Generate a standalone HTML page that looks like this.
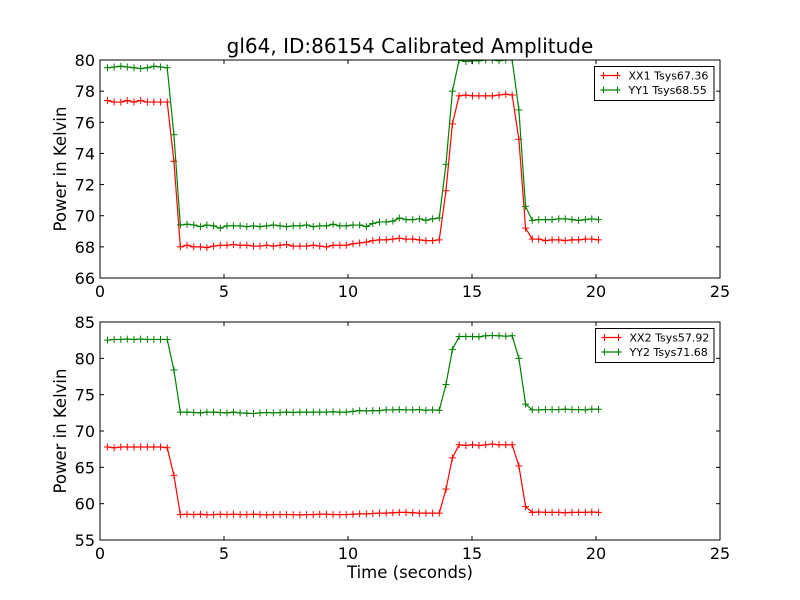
<!DOCTYPE html>
<html><head><meta charset="utf-8">
<style>
html,body{margin:0;padding:0;background:#fff;}
svg{display:block;font-family:"DejaVu Sans","Liberation Sans",sans-serif;}
</style></head>
<body>
<svg id="chart" width="800" height="600" viewBox="0 0 800 600" xmlns="http://www.w3.org/2000/svg">
<rect width="800" height="600" fill="#fff"/>
<text x="410" y="53" font-size="20" text-anchor="middle">gl64, ID:86154 Calibrated Amplitude</text>
</svg>
<script>
const times=[0.30,0.57,0.84,1.10,1.37,1.64,1.91,2.17,2.44,2.71,2.98,3.24,3.51,3.78,4.05,4.31,4.58,4.85,5.12,5.38,5.65,5.92,6.19,6.45,6.72,6.99,7.26,7.52,7.79,8.06,8.33,8.60,8.86,9.13,9.40,9.67,9.93,10.20,10.47,10.74,11.00,11.27,11.54,11.81,12.07,12.34,12.61,12.88,13.14,13.41,13.68,13.95,14.21,14.48,14.75,15.02,15.28,15.55,15.82,16.09,16.36,16.62,16.89,17.16,17.43,17.69,17.96,18.23,18.50,18.76,19.03,19.30,19.57,19.83,20.10];
const xx1=[77.4,77.3,77.3,77.4,77.3,77.4,77.3,77.3,77.3,77.3,73.5,68.0,68.1,68.0,68.0,67.95,68.05,68.1,68.1,68.15,68.1,68.1,68.05,68.05,68.1,68.05,68.1,68.15,68.05,68.05,68.05,68.1,68.05,68.0,68.1,68.1,68.1,68.2,68.25,68.3,68.4,68.45,68.45,68.5,68.55,68.5,68.5,68.45,68.4,68.4,68.45,71.6,75.9,77.7,77.75,77.7,77.7,77.7,77.7,77.75,77.8,77.75,74.9,69.2,68.5,68.5,68.4,68.45,68.45,68.4,68.45,68.45,68.5,68.5,68.45];
const yy1=[79.5,79.55,79.6,79.55,79.5,79.45,79.5,79.6,79.55,79.5,75.2,69.4,69.45,69.4,69.3,69.4,69.35,69.2,69.35,69.35,69.35,69.3,69.35,69.3,69.35,69.4,69.35,69.3,69.35,69.35,69.4,69.3,69.35,69.35,69.45,69.35,69.35,69.4,69.4,69.3,69.5,69.6,69.6,69.65,69.85,69.75,69.75,69.8,69.7,69.8,69.85,73.3,78.0,80.0,79.9,79.95,79.95,80.0,80.0,79.95,80.0,80.0,76.8,70.6,69.7,69.75,69.75,69.75,69.8,69.8,69.75,69.7,69.75,69.8,69.75];
const xx2=[67.8,67.7,67.8,67.8,67.8,67.8,67.8,67.8,67.8,67.7,63.9,58.5,58.55,58.5,58.55,58.45,58.5,58.55,58.5,58.55,58.5,58.5,58.55,58.5,58.45,58.5,58.5,58.5,58.5,58.45,58.5,58.5,58.55,58.55,58.5,58.5,58.5,58.55,58.6,58.6,58.65,58.7,58.7,58.75,58.8,58.8,58.75,58.7,58.7,58.7,58.7,62.0,66.3,68.1,68.0,68.1,68.0,68.1,68.2,68.1,68.1,68.1,65.2,59.6,58.8,58.85,58.8,58.8,58.8,58.75,58.8,58.8,58.8,58.85,58.8];
const yy2=[82.5,82.6,82.6,82.65,82.6,82.65,82.6,82.6,82.6,82.6,78.4,72.6,72.6,72.55,72.5,72.6,72.6,72.55,72.5,72.6,72.5,72.45,72.4,72.5,72.55,72.5,72.55,72.6,72.55,72.6,72.6,72.6,72.6,72.6,72.65,72.6,72.6,72.7,72.8,72.75,72.8,72.8,72.9,72.9,72.95,72.9,72.9,72.95,72.85,72.9,72.85,76.4,81.2,83.0,83.0,83.0,82.95,83.1,83.15,83.1,83.05,83.1,80.0,73.7,72.9,72.9,72.95,72.95,72.95,73.0,72.95,72.95,72.9,73.0,73.0];
const xTicks=[0,5,10,15,20,25];
const yTicksTop=[66,68,70,72,74,76,78,80];
const yTicksBot=[55,60,65,70,75,80,85];
const legendTop=["XX1 Tsys67.36","YY1 Tsys68.55"];
const legendBot=["XX2 Tsys57.92","YY2 Tsys71.68"];

const NS="http://www.w3.org/2000/svg";
const svg=document.getElementById('chart');
function mk(tag,attrs,parent){const e=document.createElementNS(NS,tag);for(const k in attrs)e.setAttribute(k,attrs[k]);(parent||svg).appendChild(e);return e;}

function panel(id,top,bottom,ymin,ymax,yTicks,s1,s2,labels,legBox,showXLabel){
  const L=100,R=720;
  const X=v=>L+(v-0)/(25-0)*(R-L);
  const Y=v=>bottom-(v-ymin)/(ymax-ymin)*(bottom-top);
  const g=mk('g',{});
  
  
  const cp=mk('clipPath',{id:id+'-clip'},g);
  mk('rect',{x:L,y:top,width:R-L,height:bottom-top},cp);
  const series=[[s1,'#ff0000',labels[0]],[s2,'#008000',labels[1]]];
  series.forEach(([vals,col,lab],si)=>{
    const sg=mk('g',{'clip-path':'url(#'+id+'-clip)'},g);
    
    
    const pts=vals.map((v,i)=>X(times[i]).toFixed(2)+','+Y(v).toFixed(2)).join(' ');
    mk('polyline',{points:pts,fill:'none',stroke:col,'stroke-width':1.2},sg);
    let d='';
    vals.forEach((v,i)=>{const x=X(times[i]),y=Y(v);d+=`M${x-3.5},${y}H${x+3.5}M${x},${y-3.5}V${y+3.5}`;});
    const m=mk('path',{d:d,stroke:col,'stroke-width':1,fill:'none'},sg);
    
    
  });
  mk('rect',{x:L,y:top,width:R-L,height:bottom-top,fill:'none',stroke:'#000','stroke-width':1},g);
  xTicks.forEach(t=>{
    const x=X(t);
    mk('line',{x1:x,y1:bottom,x2:x,y2:bottom-4,stroke:'#000'},g);
    mk('line',{x1:x,y1:top,x2:x,y2:top+4,stroke:'#000'},g);
    const tx=mk('text',{x:x,y:bottom+19,'font-size':16,'text-anchor':'middle'},g);
    tx.textContent=t;
    
    
  });
  yTicks.forEach(t=>{
    const y=Y(t);
    mk('line',{x1:L,y1:y,x2:L+4,y2:y,stroke:'#000'},g);
    mk('line',{x1:R,y1:y,x2:R-4,y2:y,stroke:'#000'},g);
    const tx=mk('text',{x:L-5,y:y+6,'font-size':16,'text-anchor':'end'},g);
    tx.textContent=t;
    
    
  });
  const yl=mk('text',{x:0,y:0,'font-size':16.5,'text-anchor':'middle',transform:`translate(66,${(top+bottom)/2}) rotate(-90)`},g);
  yl.textContent='Power in Kelvin';
  
  
  if(showXLabel){
    const xl=mk('text',{x:410,y:578,'font-size':16.5,'text-anchor':'middle'},g);
    xl.textContent='Time (seconds)';
    
    
  }
  const lg=mk('g',{},g);
  
  
  mk('rect',{x:legBox[0],y:legBox[1],width:legBox[2],height:legBox[3],fill:'#fff',stroke:'#000','stroke-width':1},lg);
  series.forEach(([vals,col,lab],si)=>{
    const ey=legBox[1]+9+si*14.5;
    const ent=mk('g',{},lg);
    
    
    mk('line',{x1:legBox[0]+6,y1:ey,x2:legBox[0]+26,y2:ey,stroke:col,'stroke-width':1.2},ent);
    mk('path',{d:`M${legBox[0]+9},${ey-3.5}V${ey+3.5}M${legBox[0]+23},${ey-3.5}V${ey+3.5}`,stroke:col},ent);
    const t=mk('text',{x:legBox[0]+34,y:ey+4,'font-size':11},ent);
    t.textContent=lab;
  });
}
panel('top',60,278,66,80,yTicksTop,xx1,yy1,legendTop,[594.5,66.5,119.5,34],false);
panel('bottom',322,540,55,85,yTicksBot,xx2,yy2,legendBot,[595.5,328.5,118.5,34],true);
</script>
</body></html>
